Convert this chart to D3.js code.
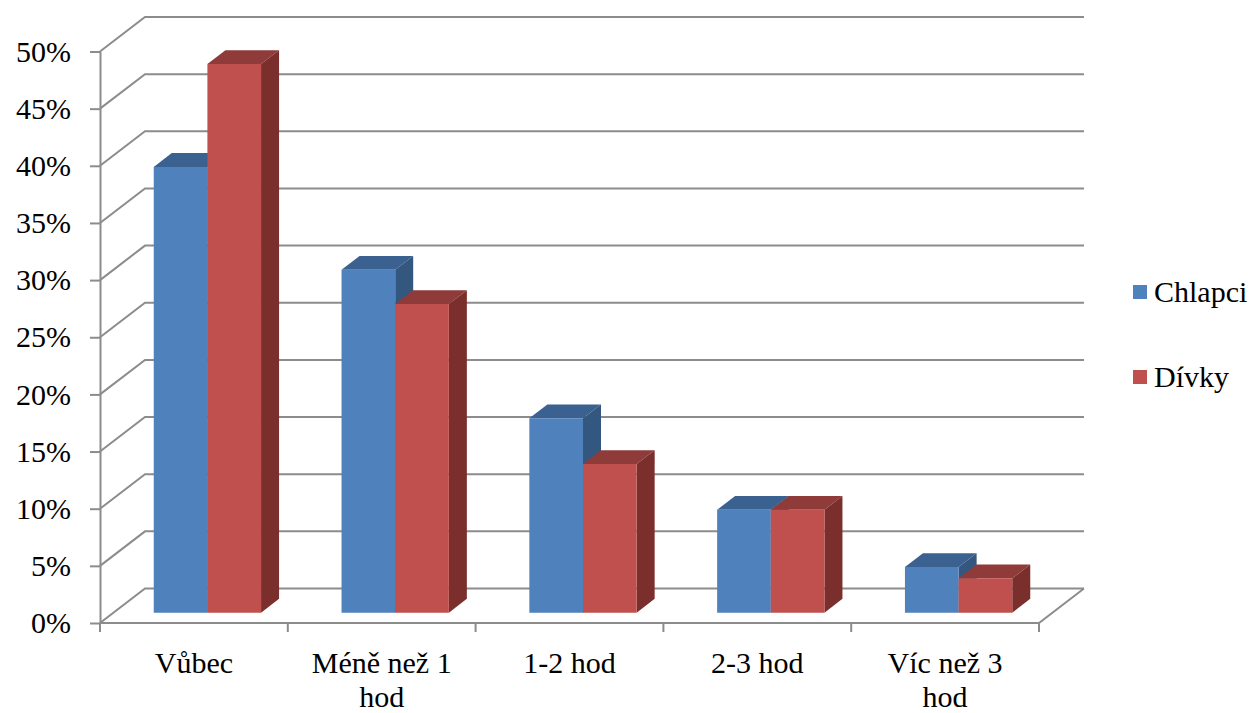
<!DOCTYPE html>
<html>
<head>
<meta charset="utf-8">
<script src="https://cdn.jsdelivr.net/npm/d3@7"></script>
<style>
  html, body { margin: 0; padding: 0; background: #fff; }
  svg { display: block; }
</style>
</head>
<body>
<svg id="chart" width="1249" height="713"></svg>
<script>
// Time spent per day, boys vs girls (share of respondents, %)
const categories = ["Vůbec", "Méně než 1 hod", "1-2 hod", "2-3 hod", "Víc než 3 hod"];
const series = ["Chlapci", "Dívky"];
const chlapci = [39, 30, 17, 9, 4];
const divky = [48, 27, 13, 9, 3];
const yTicks = [0, 5, 10, 15, 20, 25, 30, 35, 40, 45, 50];

const values = { "Chlapci": chlapci, "Dívky": divky };
const colors = {
  "Chlapci": { front: "#4F81BD", top: "#3B6191", side: "#34577F" },
  "Dívky":   { front: "#C0504D", top: "#8E3B39", side: "#7A2F2D" }
};

const svg = d3.select("#chart");
const FONT = 30;
const SERIF = "serif";
const GRID = "#8C8C8C";

// front plane of the plot box and the depth offset of the back wall
const left = 100, right = 1039;
const DX = 45, DY = 34.5;
const y = d3.scaleLinear().domain([0, 50]).range([623, 51.5]);
const x0 = d3.scaleBand().domain(categories).range([left, right]).paddingInner(0).paddingOuter(0);
const x1 = d3.scaleBand().domain(series).range([0, x0.bandwidth()]).paddingInner(0).paddingOuter(0.75);

// columns occupy the middle 40% of the depth
const dFront = 0.3, dBack = 0.7;
const proj = (px, py, d) => [px + d * DX, py - d * DY];

// walls: gridlines run along the left side wall and across the back wall
const grid = svg.append("g").attr("fill", "none").attr("stroke", GRID).attr("stroke-width", 2);
grid.selectAll("path.grid").data(yTicks).join("path")
  .attr("class", "grid")
  .attr("d", v => d3.line()([[left, y(v)], proj(left, y(v), 1), proj(right, y(v), 1)]));

// floor: front edge and right edge
grid.append("path").attr("d", d3.line()([[left, y(0)], [right, y(0)], proj(right, y(0), 1)]));

// value axis on the front plane
const yAxis = d3.axisLeft(y)
  .tickValues(yTicks)
  .tickFormat(d => d + "%")
  .tickSize(10)
  .tickSizeOuter(0)
  .tickPadding(19);
const ya = svg.append("g").attr("transform", `translate(${left},0)`).call(yAxis);
ya.attr("font-family", SERIF).attr("font-size", FONT);
ya.select(".domain").attr("stroke", GRID).attr("stroke-width", 2);
ya.selectAll(".tick line").attr("stroke", GRID).attr("stroke-width", 2);
ya.selectAll(".tick text").attr("fill", "#000").attr("dy", "0.32em");

// category boundary ticks below the floor
const bounds = d3.range(categories.length + 1).map(i => i === categories.length ? right : x0(categories[i]));
svg.append("g").selectAll("line").data(bounds).join("line")
  .attr("x1", d => d).attr("x2", d => d)
  .attr("y1", y(0)).attr("y2", y(0) + 9)
  .attr("stroke", GRID).attr("stroke-width", 2);

// category labels, wrapped to fit under each category
function wrapWords(str, maxW) {
  const words = str.split(" ");
  const tmp = svg.append("text").attr("font-size", FONT).attr("font-family", SERIF);
  const lines = [];
  let cur = "";
  words.forEach(w => {
    const test = cur ? cur + " " + w : w;
    tmp.text(test);
    if (tmp.node().getComputedTextLength() > maxW && cur) {
      lines.push(cur);
      cur = w;
    } else cur = test;
  });
  lines.push(cur);
  tmp.remove();
  return lines;
}
const catLabels = svg.append("g").attr("font-size", FONT).attr("font-family", SERIF).attr("text-anchor", "middle");
categories.forEach(c => {
  const lines = wrapWords(c, 150);
  const cx = x0(c) + x0.bandwidth() / 2;
  const t = catLabels.append("text").attr("x", cx).attr("y", 673);
  lines.forEach((ln, i) => {
    t.append("tspan").attr("x", cx).attr("dy", i === 0 ? 0 : 34).text(ln);
  });
});

// 3D columns: top face, right side face, front face
const bars = [];
categories.forEach((c, i) => {
  series.forEach(s => bars.push({ cat: c, s, v: values[s][i] }));
});
const barG = svg.append("g");
bars.forEach(b => {
  const xl = x0(b.cat) + x1(b.s);
  const xr = xl + x1.bandwidth();
  const yt = y(b.v), yb = y(0);
  const A = proj(xl, yt, dFront), B = proj(xr, yt, dFront);
  const C = proj(xr, yb, dFront), D = proj(xl, yb, dFront);
  const At = proj(xl, yt, dBack), Bt = proj(xr, yt, dBack), Cb = proj(xr, yb, dBack);
  const col = colors[b.s];
  const g = barG.append("g");
  g.append("path").attr("d", d3.line()([A, B, Bt, At]) + "Z").attr("fill", col.top);
  g.append("path").attr("d", d3.line()([B, C, Cb, Bt]) + "Z").attr("fill", col.side);
  g.append("path").attr("d", d3.line()([A, B, C, D]) + "Z").attr("fill", col.front);
});

// legend
const legend = svg.append("g").attr("font-size", FONT).attr("font-family", SERIF);
const legendY = [292, 377];
series.forEach((s, i) => {
  legend.append("rect")
    .attr("x", 1133).attr("y", legendY[i] - 7)
    .attr("width", 14).attr("height", 14)
    .attr("fill", colors[s].front);
  legend.append("text")
    .attr("x", 1154).attr("y", legendY[i] + 10)
    .text(s);
});
</script>
</body>
</html>
